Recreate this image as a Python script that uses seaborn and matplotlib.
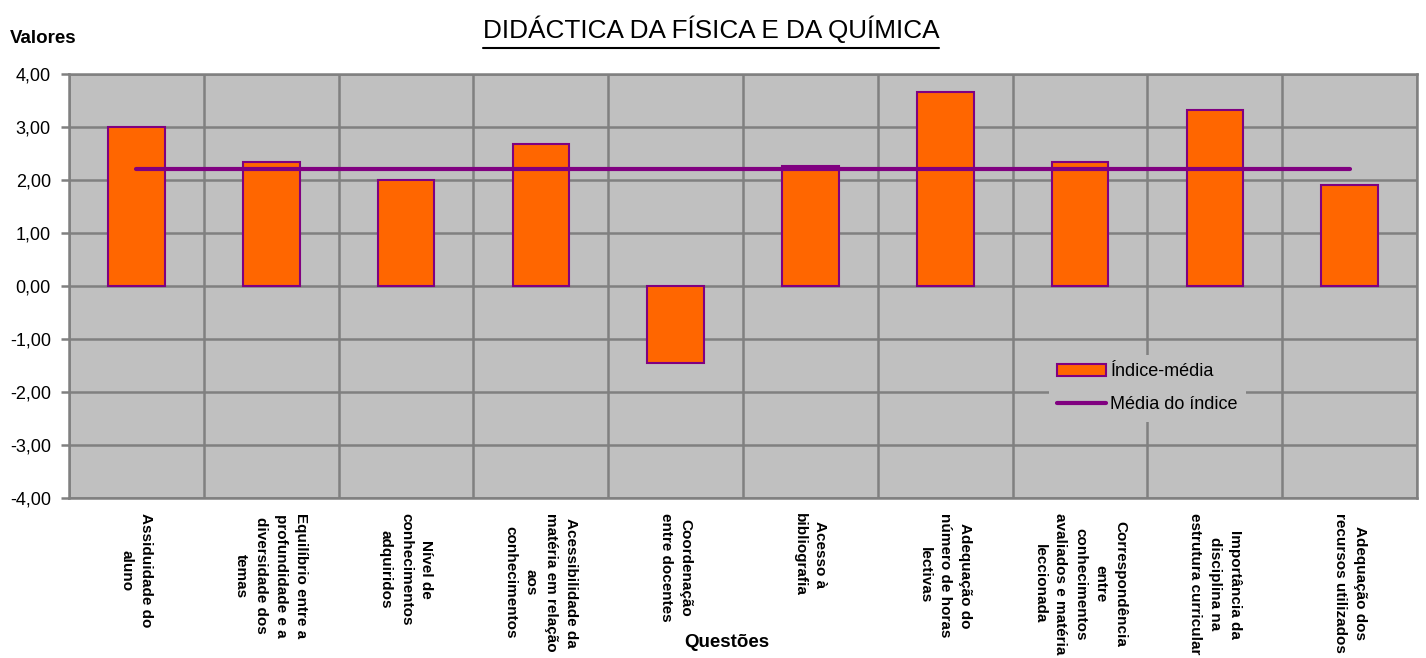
import matplotlib
matplotlib.use("Agg")
import matplotlib.pyplot as plt
import seaborn as sns
import pandas as pd
import numpy as np
from matplotlib.lines import Line2D
from matplotlib.patches import Patch
from matplotlib.ticker import FixedLocator, FuncFormatter

# data
questoes = [
    "Assiduidade do\naluno",
    "Equilíbrio entre a\nprofundidade e a\ndiversidade dos\ntemas",
    "Nível de\nconhecimentos\nadquiridos",
    "Acessibilidade da\nmatéria em relação\naos\nconhecimentos",
    "Coordenação\nentre docentes",
    "Acesso à\nbibliografia",
    "Adequação do\nnúmero de horas\nlectivas",
    "Correspondência\nentre\nconhecimentos\navaliados e matéria\nleccionada",
    "Importância da\ndisciplina na\nestrutura curricular",
    "Adequação dos\nrecursos utilizados",
]
indice_media = [3.00, 2.34, 2.00, 2.68, -1.45, 2.26, 3.66, 2.34, 3.32, 1.91]
media_indice = [2.21, 2.21, 2.21, 2.21, 2.21, 2.21, 2.21, 2.21, 2.21, 2.21]
y_ticks = [-4, -3, -2, -1, 0, 1, 2, 3, 4]

ORANGE = "#FF6600"
PURPLE = "#800080"
GREY_BG = "#C0C0C0"
GRID = "#808080"

sns.set_style("white")
plt.rcParams["font.family"] = ["Liberation Sans", "DejaVu Sans"]
plt.rcParams["text.color"] = "black"
plt.rcParams["xtick.color"] = "black"
plt.rcParams["ytick.color"] = "black"
plt.rcParams["axes.labelcolor"] = "black"

df = pd.DataFrame({"questao": questoes, "valor": indice_media, "media": media_indice})
df["pos"] = np.arange(len(df))

fig = plt.figure(figsize=(14.26, 6.58), dpi=100)
ax = fig.add_axes([0.0484, 0.2432, 0.9453, 0.6443])
ax.set_facecolor(GREY_BG)

sns.barplot(data=df, x="questao", y="valor", color=ORANGE, width=0.42,
            edgecolor=PURPLE, linewidth=1.5, saturation=1, ax=ax, zorder=3)
sns.lineplot(data=df, x="pos", y="media", color=PURPLE, linewidth=3, ax=ax, zorder=4)

ax.set_xlim(-0.5, len(df) - 0.5)
ax.set_ylim(-4, 4)
ax.yaxis.set_major_locator(FixedLocator(y_ticks))
ax.yaxis.set_major_formatter(FuncFormatter(lambda v, p: f"{v:.2f}".replace(".", ",")))
ax.xaxis.set_minor_locator(FixedLocator(np.arange(len(df) + 1) - 0.5))

ax.grid(axis="y", which="major", color=GRID, linewidth=1.8, zorder=0)
ax.grid(axis="x", which="minor", color=GRID, linewidth=1.8, zorder=0)
ax.set_axisbelow(True)

for s in ax.spines.values():
    s.set_color(GRID)
    s.set_linewidth(1.8)

ax.tick_params(axis="y", direction="out", length=6, width=1.8, color=GRID,
               labelcolor="black", labelsize=13, pad=7, left=True)
ax.tick_params(axis="x", which="both", length=0, pad=11)
ax.set_xticks(range(len(df)))
ax.set_xticklabels(questoes, rotation=-90, ha="center", va="top",
                   fontsize=11, fontweight="bold", linespacing=1.55,
                   multialignment="center")

ax.set_xlabel("Questões", fontsize=13.5, fontweight="bold", labelpad=0)
ax.xaxis.set_label_coords(0.488, -0.322)
ax.set_ylabel("")

fig.text(0.007, 0.935, "Valores", fontsize=13.5, fontweight="bold", ha="left", va="baseline")

title = fig.text(0.4985, 0.943, "DIDÁCTICA DA FÍSICA E DA QUÍMICA", fontsize=18.8,
                 ha="center", va="baseline")
fig.canvas.draw()
bb = title.get_window_extent().transformed(fig.transFigure.inverted())
fig.add_artist(Line2D([bb.x0, bb.x1], [0.927, 0.927], color="black", linewidth=1.5,
                      transform=fig.transFigure))

handles = [
    Patch(facecolor=ORANGE, edgecolor=PURPLE, linewidth=1.5, label="Índice-média"),
    Line2D([0], [0], color=PURPLE, linewidth=3, label="Média do índice"),
]
leg = ax.legend(handles=handles, loc="upper left", bbox_to_anchor=(0.727, 0.337),
                fontsize=13, frameon=True, facecolor=GREY_BG, edgecolor="none",
                framealpha=1, fancybox=False, handlelength=2.7, handleheight=0.7,
                handletextpad=0.25, borderpad=0.45, labelspacing=0.9,
                borderaxespad=0)
leg.set_zorder(5)

fig.savefig("out.png", dpi=100)
